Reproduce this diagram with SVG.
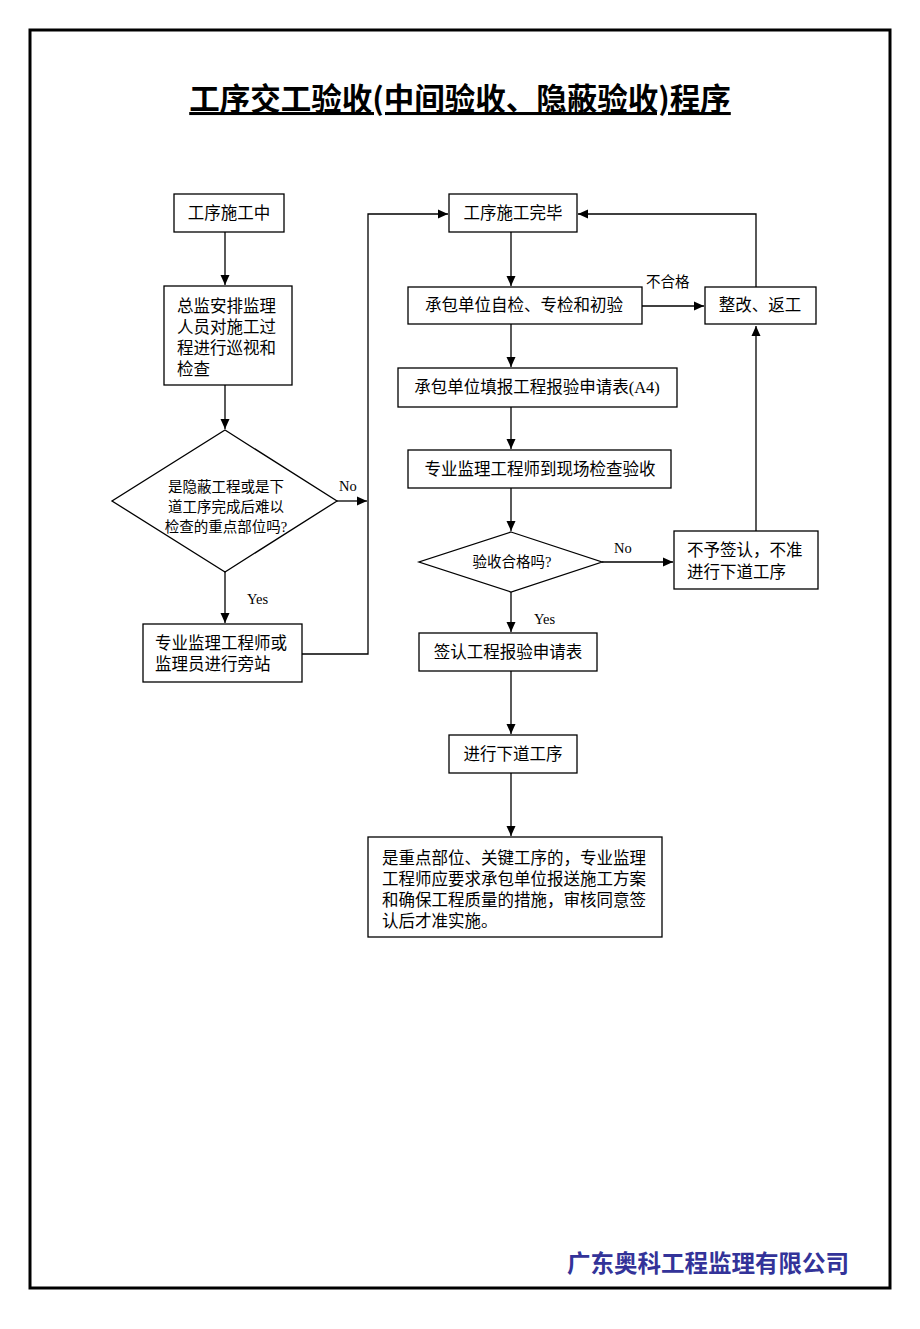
<svg xmlns="http://www.w3.org/2000/svg" width="920" height="1329" viewBox="0 0 920 1329">
<style>
.b{fill:#fff;stroke:#000;stroke-width:1.3}
.t{font-family:"Liberation Serif","Noto Sans CJK SC",serif;font-size:16.5px;fill:#000}
.s{font-family:"Liberation Serif","Noto Sans CJK SC",serif;font-size:14.5px;fill:#000}
.c{stroke:#000;stroke-width:1.3;fill:none}
</style>
<defs>
<marker id="a" viewBox="0 0 10 10" refX="10" refY="5" markerWidth="10" markerHeight="10" markerUnits="userSpaceOnUse" orient="auto">
<path d="M0,0.5 L10,5 L0,9.5 Z" fill="#000"/>
</marker>
</defs>
<rect x="0" y="0" width="920" height="1329" fill="#fff"/>
<rect x="30" y="30" width="860" height="1258" fill="none" stroke="#000" stroke-width="3"/>
<text x="460" y="110" text-anchor="middle" font-family="'Noto Sans CJK SC',sans-serif" font-size="30.5" font-weight="bold" text-decoration="underline">工序交工验收(中间验收、隐蔽验收)程序</text>

<g id="connectors">
<path class="c" d="M225,232 V285" marker-end="url(#a)"/>
<path class="c" d="M225,385 V429" marker-end="url(#a)"/>
<path class="c" d="M225,572 V623" marker-end="url(#a)"/>
<path class="c" d="M337,501 H367" marker-end="url(#a)"/>
<path class="c" d="M302,654 H368 V214 H448" marker-end="url(#a)"/>
<path class="c" d="M511,232 V286" marker-end="url(#a)"/>
<path class="c" d="M642,306 H704" marker-end="url(#a)"/>
<path class="c" d="M756,287 V214 H578" marker-end="url(#a)"/>
<path class="c" d="M511,324 V367" marker-end="url(#a)"/>
<path class="c" d="M511,407 V449" marker-end="url(#a)"/>
<path class="c" d="M511,488 V531" marker-end="url(#a)"/>
<path class="c" d="M602,562 H673" marker-end="url(#a)"/>
<path class="c" d="M756,531 V326" marker-end="url(#a)"/>
<path class="c" d="M511,592 V632" marker-end="url(#a)"/>
<path class="c" d="M511,671 V734" marker-end="url(#a)"/>
<path class="c" d="M511,773 V836" marker-end="url(#a)"/>
<text class="s" x="339" y="491">No</text>
<text class="s" x="247" y="604">Yes</text>
<text class="s" x="646" y="287">不合格</text>
<text class="s" x="614" y="553">No</text>
<text class="s" x="534" y="624">Yes</text>
</g>

<g id="n1"><rect class="b" x="174" y="194" width="110" height="38"/><text class="t" x="229" y="219" text-anchor="middle">工序施工中</text></g>
<g id="n2"><rect class="b" x="164" y="286" width="128" height="99"/>
<text class="t" x="177" y="312">总监安排监理</text><text class="t" x="177" y="333">人员对施工过</text><text class="t" x="177" y="354">程进行巡视和</text><text class="t" x="177" y="375">检查</text></g>
<g id="n3"><polygon class="b" points="225,430 337,501 225,572 112,501"/>
<text class="s" x="226" y="492" text-anchor="middle">是隐蔽工程或是下</text><text class="s" x="226" y="512" text-anchor="middle">道工序完成后难以</text><text class="s" x="226" y="532" text-anchor="middle">检查的重点部位吗?</text></g>
<g id="n4"><rect class="b" x="143" y="624" width="159" height="58"/>
<text class="t" x="155" y="649">专业监理工程师或</text><text class="t" x="155" y="670">监理员进行旁站</text></g>
<g id="n5"><rect class="b" x="449" y="194" width="128" height="38"/><text class="t" x="513" y="219" text-anchor="middle">工序施工完毕</text></g>
<g id="n6"><rect class="b" x="408" y="287" width="234" height="37"/><text class="t" x="524" y="311" text-anchor="middle">承包单位自检、专检和初验</text></g>
<g id="n7"><rect class="b" x="705" y="287" width="111" height="37"/><text class="t" x="760" y="311" text-anchor="middle">整改、返工</text></g>
<g id="n8"><rect class="b" x="398" y="368" width="279" height="39"/><text class="t" x="537" y="393" text-anchor="middle">承包单位填报工程报验申请表(A4)</text></g>
<g id="n9"><rect class="b" x="408" y="450" width="263" height="38"/><text class="t" x="540" y="475" text-anchor="middle">专业监理工程师到现场检查验收</text></g>
<g id="n10"><polygon class="b" points="511,532 602,562 511,592 419,562"/><text class="s" x="512" y="567" text-anchor="middle">验收合格吗?</text></g>
<g id="n11"><rect class="b" x="674" y="531" width="144" height="58"/>
<text class="t" x="687" y="556">不予签认，不准</text><text class="t" x="687" y="578">进行下道工序</text></g>
<g id="n12"><rect class="b" x="419" y="633" width="178" height="38"/><text class="t" x="508" y="658" text-anchor="middle">签认工程报验申请表</text></g>
<g id="n13"><rect class="b" x="449" y="735" width="128" height="38"/><text class="t" x="513" y="760" text-anchor="middle">进行下道工序</text></g>
<g id="n14"><rect class="b" x="368" y="837" width="294" height="100"/>
<text class="t" x="382" y="864" font-size="17.3">是重点部位、关键工序的，专业监理</text>
<text class="t" x="382" y="885" font-size="17.3">工程师应要求承包单位报送施工方案</text>
<text class="t" x="382" y="906" font-size="17.3">和确保工程质量的措施，审核同意签</text>
<text class="t" x="382" y="927" font-size="17.3">认后才准实施。</text></g>
<text x="567" y="1272" font-family="'Noto Sans CJK SC',sans-serif" font-size="23.5" font-weight="bold" fill="#333399">广东奥科工程监理有限公司</text>
</svg>
